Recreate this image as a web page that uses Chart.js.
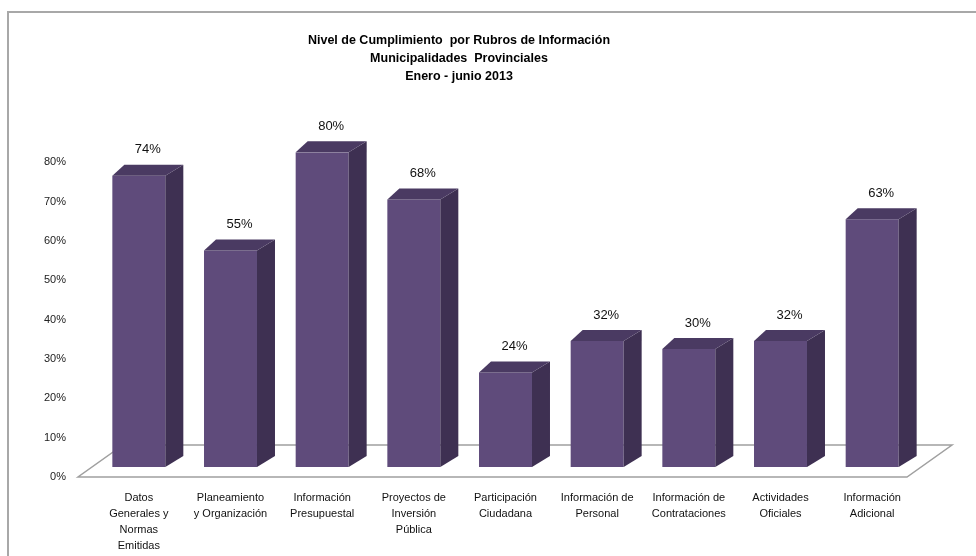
<!DOCTYPE html>
<html>
<head>
<meta charset="utf-8">
<script src="https://cdn.jsdelivr.net/npm/chart.js@4/dist/chart.umd.min.js"></script>
<style>
  html, body { margin: 0; padding: 0; background: #fff; }
  #wrap { width: 976px; height: 556px; position: relative; }
</style>
</head>
<body>
<div id="wrap"><canvas id="chart" width="976" height="556"></canvas></div>
<script>
// Categories and values
const rubros = [
    ["Datos", "Generales y", "Normas", "Emitidas"],
    ["Planeamiento", "y Organización"],
    ["Información", "Presupuestal"],
    ["Proyectos de", "Inversión", "Pública"],
    ["Participación", "Ciudadana"],
    ["Información de", "Personal"],
    ["Información de", "Contrataciones"],
    ["Actividades", "Oficiales"],
    ["Información", "Adicional"]
];
const cumplimiento = [74, 55, 80, 68, 24, 32, 30, 32, 63];
const titleLines = [
    "Nivel de Cumplimiento  por Rubros de Información",
    "Municipalidades  Provinciales",
    "Enero - junio 2013"
];

const FONT = "'Liberation Sans', Arial, sans-serif";
const frontColor = 'rgb(95, 75, 123)';
const sideColor = 'rgb(62, 48, 82)';
const topColor = 'rgb(74, 58, 98)';

// Outer frame and 3D floor drawn behind the bars
const backdrop = {
    id: 'backdrop',
    beforeDraw(chart) {
        const ctx = chart.ctx;
        ctx.save();
        ctx.strokeStyle = '#a8a8a8';
        ctx.lineWidth = 2;
        ctx.beginPath();
        ctx.moveTo(8, chart.height + 5);
        ctx.lineTo(8, 12);
        ctx.lineTo(chart.width + 5, 12);
        ctx.stroke();
        ctx.restore();
    },
    beforeDatasetsDraw(chart) {
        const ctx = chart.ctx;
        const area = chart.chartArea;
        const base = chart.scales.y.getPixelForValue(0);
        ctx.save();
        ctx.strokeStyle = '#a0a0a0';
        ctx.lineWidth = 1.5;
        ctx.beginPath();
        ctx.moveTo(area.left - 15, base + 10);
        ctx.lineTo(area.right - 11, base + 10);
        ctx.lineTo(area.right + 34, base - 22);
        ctx.lineTo(area.left + 30, base - 22);
        ctx.closePath();
        ctx.stroke();
        ctx.restore();
    }
};

// Side and top faces for each bar, plus value labels
const bars3d = {
    id: 'bars3d',
    afterDatasetsDraw(chart) {
        const ctx = chart.ctx;
        const meta = chart.getDatasetMeta(0);
        ctx.save();
        meta.data.forEach((bar, i) => {
            const L = bar.x - bar.width / 2;
            const R = bar.x + bar.width / 2;
            const top = bar.y;
            const base = bar.base;
            // side
            ctx.fillStyle = sideColor;
            ctx.beginPath();
            ctx.moveTo(R, top);
            ctx.lineTo(R + 18, top - 11);
            ctx.lineTo(R + 18, base - 11);
            ctx.lineTo(R, base);
            ctx.closePath();
            ctx.fill();
            // top
            ctx.fillStyle = topColor;
            ctx.beginPath();
            ctx.moveTo(L, top);
            ctx.lineTo(L + 12, top - 11);
            ctx.lineTo(R + 18, top - 11);
            ctx.lineTo(R, top);
            ctx.closePath();
            ctx.fill();
            // label
            ctx.fillStyle = '#111';
            ctx.font = '13px ' + FONT;
            ctx.textAlign = 'center';
            ctx.textBaseline = 'middle';
            ctx.fillText(cumplimiento[i] + '%', bar.x + 9, top - 26);
        });
        ctx.restore();
    }
};

const ctx = document.getElementById('chart').getContext('2d');
new Chart(ctx, {
    type: 'bar',
    data: {
        labels: rubros,
        datasets: [{
            data: cumplimiento,
            backgroundColor: frontColor,
            borderWidth: 0,
            barPercentage: 0.578,
            categoryPercentage: 1
        }]
    },
    options: {
        responsive: false,
        animation: false,
        layout: { padding: { left: 0, right: 58, top: 32, bottom: 0 } },
        plugins: {
            legend: { display: false },
            tooltip: { enabled: false },
            title: {
                display: true,
                text: titleLines,
                color: '#000',
                font: { family: FONT, size: 12.5, weight: 'bold', lineHeight: 1.42 },
                padding: { top: 0, bottom: 67 }
            }
        },
        scales: {
            x: {
                afterFit: s => { s.height = 89; },
                grid: { display: false },
                border: { display: false },
                ticks: {
                    color: '#111',
                    font: { family: FONT, size: 11, lineHeight: 1.45 },
                    padding: 15,
                    maxRotation: 0,
                    autoSkip: false
                }
            },
            y: {
                min: 0,
                max: 80,
                afterFit: s => { s.width = 93; },
                grid: { display: false },
                border: { display: false },
                ticks: {
                    stepSize: 10,
                    padding: 19,
                    labelOffset: 10,
                    color: '#222',
                    font: { family: FONT, size: 11 },
                    callback: v => v + '%'
                }
            }
        }
    },
    plugins: [backdrop, bars3d]
});
</script>
</body>
</html>
